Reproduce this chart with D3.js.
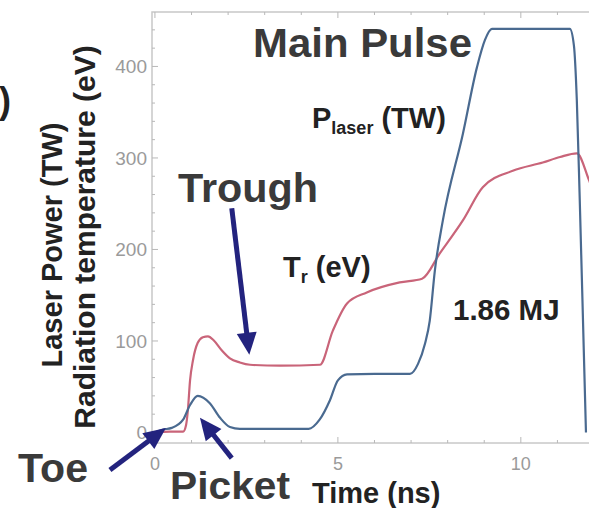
<!DOCTYPE html>
<html>
<head>
<meta charset="utf-8">
<script src="https://cdn.jsdelivr.net/npm/d3@7/dist/d3.min.js"></script>
<style>
  html, body { margin: 0; padding: 0; background: #fff; }
  svg { display: block; }
  text { font-family: "Liberation Sans", Arial, Helvetica, sans-serif; font-weight: bold; }
</style>
</head>
<body>
<svg id="chart" width="589" height="508"></svg>
<script>
// Laser power history (TW) versus time (ns)
const powerTime = [0.0, 0.2, 0.46, 0.77, 0.96, 1.17, 1.5, 1.78, 2.05, 2.32, 3.2, 4.2, 4.5, 4.78, 5.0, 5.25, 6.0, 6.97, 7.19, 7.38, 7.51, 7.65, 7.87, 8.42, 8.8, 9.02, 9.21, 10.3, 11.34, 11.45, 11.53, 11.61, 11.72, 11.78];
const powerTW   = [0, 3, 5, 14, 30, 40, 32, 16, 6, 4, 4, 4, 14, 35, 57, 63.5, 64, 64, 75, 97, 122, 177, 232, 327, 399, 429, 441, 441, 441, 423, 363, 254, 90, 0];

// Hohlraum radiation temperature (eV) versus time (ns)
const tempTime = [0.0, 0.4, 0.77, 0.85, 0.9, 0.96, 1.04, 1.17, 1.31, 1.45, 1.61, 1.83, 2.05, 2.32, 2.6, 3.42, 4.51, 4.86, 5.25, 5.79, 6.69, 7.3, 7.79, 8.42, 8.96, 9.78, 10.6, 11.07, 11.53, 11.86, 12.1];
const tempEV   = [0, 1, 1, 8, 24, 57, 79, 98, 104, 105, 100.5, 89.6, 81, 76.5, 74, 73, 74, 111, 141, 153, 164, 168, 196, 232, 268, 286, 295, 301, 305, 276, 250];

// Axis ticks
const yTicks = [0, 100, 200, 300, 400];
const xTicks = [0, 5, 10];
const yMinor = d3.range(0, 460, 20);
const xMinor = d3.range(0, 13, 1);

const svg = d3.select("#chart");

const x = d3.scaleLinear().domain([-0.08, 12.3]).range([152, 605]);
const y = d3.scaleLinear().domain([-11.5, 459.5]).range([443, 12]);

const [x0, x1] = x.range();
const [yb, yt] = y.range();

// Plot frame
svg.append("rect")
  .attr("x", x0).attr("y", yt)
  .attr("width", x1 - x0).attr("height", yb - yt)
  .attr("fill", "none").attr("stroke", "#c8c8c8").attr("stroke-width", 1.5);

// Minor and major ticks, pointing into the frame
const tickG = svg.append("g").attr("stroke", "#b8b8b8").attr("stroke-width", 1);
yMinor.forEach(v => {
  const len = yTicks.includes(v) ? 6 : 3;
  tickG.append("line").attr("x1", x0).attr("x2", x0 + len).attr("y1", y(v)).attr("y2", y(v));
});
xMinor.forEach(t => {
  const len = xTicks.includes(t) ? 6 : 3;
  tickG.append("line").attr("x1", x(t)).attr("x2", x(t)).attr("y1", yb).attr("y2", yb - len);
  tickG.append("line").attr("x1", x(t)).attr("x2", x(t)).attr("y1", yt).attr("y2", yt + len);
});

// Tick labels
svg.append("g").selectAll("text").data(yTicks).join("text")
  .attr("x", 147).attr("y", d => y(d)).attr("dy", "0.36em")
  .attr("text-anchor", "end").attr("fill", "#9a9a9a")
  .style("font-weight", "normal").style("font-size", "19px")
  .text(d => d);

svg.append("g").selectAll("text").data(xTicks).join("text")
  .attr("x", d => x(d)).attr("y", 470)
  .attr("text-anchor", "middle").attr("fill", "#9a9a9a")
  .style("font-weight", "normal").style("font-size", "18px")
  .text(d => d);

// Curves
svg.append("clipPath").attr("id", "plot-clip")
  .append("rect").attr("x", x0).attr("y", yt).attr("width", x1 - x0).attr("height", yb - yt);

const line = d3.line().x(d => x(d[0])).y(d => y(d[1])).curve(d3.curveMonotoneX);
const curves = svg.append("g").attr("clip-path", "url(#plot-clip)");

curves.append("path")
  .datum(tempTime.map((t, i) => [t, tempEV[i]]))
  .attr("d", line).attr("fill", "none")
  .attr("stroke", "#c96479").attr("stroke-width", 2.2);

curves.append("path")
  .datum(powerTime.map((t, i) => [t, powerTW[i]]))
  .attr("d", line).attr("fill", "none")
  .attr("stroke", "#4a6a90").attr("stroke-width", 2.2);

// Axis titles
svg.append("text")
  .attr("transform", "translate(62,245) rotate(-90)")
  .attr("text-anchor", "middle").attr("fill", "#222")
  .style("font-size", "29px").text("Laser Power (TW)");
svg.append("text")
  .attr("transform", "translate(95,237) rotate(-90)")
  .attr("text-anchor", "middle").attr("fill", "#222")
  .style("font-size", "30px").text("Radiation temperature (eV)");
svg.append("text")
  .attr("x", 312).attr("y", 503).attr("fill", "#222")
  .style("font-size", "29px").text("Time (ns)");

// Closing bracket of the panel marker at the far left
svg.append("text")
  .attr("x", -1).attr("y", 113).attr("fill", "#222")
  .style("font-size", "36px").text(")");

// Curve labels
const pl = svg.append("text").attr("x", 312).attr("y", 128).attr("fill", "#222").style("font-size", "29px");
pl.append("tspan").text("P");
pl.append("tspan").attr("dy", 6).style("font-size", "18px").text("laser");
pl.append("tspan").attr("dy", -6).text(" (TW)");

const tr = svg.append("text").attr("x", 283).attr("y", 277).attr("fill", "#222").style("font-size", "29px");
tr.append("tspan").text("T");
tr.append("tspan").attr("dy", 6).style("font-size", "18px").text("r");
tr.append("tspan").attr("dy", -6).text(" (eV)");

svg.append("text").attr("x", 453).attr("y", 320).attr("fill", "#222")
  .style("font-size", "29.5px").text("1.86 MJ");

// Pulse-shape annotations
const big = [
  { text: "Main Pulse", x: 253, y: 57, w: 219, size: 40 },
  { text: "Trough", x: 178, y: 202, w: 140, size: 40 },
  { text: "Toe", x: 18, y: 482, w: 70, size: 40 },
  { text: "Picket", x: 170, y: 499, w: 120, size: 38 }
];
svg.append("g").selectAll("text").data(big).join("text")
  .attr("x", d => d.x).attr("y", d => d.y)
  .attr("textLength", d => d.w).attr("lengthAdjust", "spacingAndGlyphs")
  .attr("fill", "#3a3a3a").style("font-size", d => d.size + "px")
  .text(d => d.text);

// Arrows, given in data coordinates (tail -> tip)
const arrows = [
  { from: [2.1, 245], to: [2.58, 85] },     // Trough
  { from: [-1.23, -41], to: [0.3, 5] },     // Toe
  { from: [2.1, -28], to: [1.23, 16] }      // Picket
];
const navy = "#23237e";
const ag = svg.append("g");
arrows.forEach(a => {
  const px0 = x(a.from[0]), py0 = y(a.from[1]);
  const px1 = x(a.to[0]), py1 = y(a.to[1]);
  const dx = px1 - px0, dy = py1 - py0, L = Math.hypot(dx, dy);
  const ux = dx / L, uy = dy / L;
  const headL = 22, headW = 10;
  const bx = px1 - ux * headL, by = py1 - uy * headL;
  ag.append("line")
    .attr("x1", px0).attr("y1", py0).attr("x2", bx + ux * 2).attr("y2", by + uy * 2)
    .attr("stroke", navy).attr("stroke-width", 5);
  ag.append("polygon")
    .attr("points", [
      [px1, py1],
      [bx - uy * headW, by + ux * headW],
      [bx + uy * headW, by - ux * headW]
    ].map(p => p.join(",")).join(" "))
    .attr("fill", navy);
});
</script>
</body>
</html>
